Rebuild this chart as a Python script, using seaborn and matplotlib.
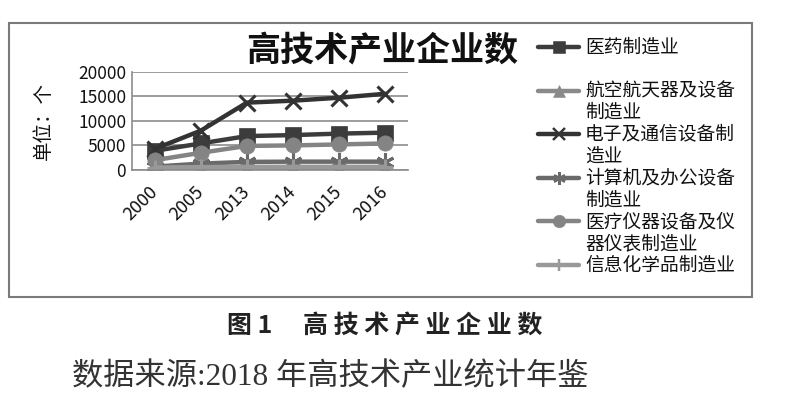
import matplotlib
matplotlib.use("Agg")
import matplotlib.pyplot as plt
from matplotlib.patches import Rectangle
from matplotlib.lines import Line2D
import seaborn as sns
import pandas as pd

years = ["2000", "2005", "2013", "2014", "2015", "2016"]
pharma = [3900, 5400, 6900, 7100, 7400, 7600]
aero = [200, 250, 330, 360, 380, 400]
electronics = [4300, 8000, 13700, 14100, 14700, 15500]
computer = [700, 1300, 1650, 1700, 1700, 1700]
medical = [2000, 3500, 4900, 5000, 5200, 5400]
chem = [500, 600, 650, 650, 650, 650]

names = ["医药制造业", "航空航天器及设备制造业", "电子及通信设备制造业",
         "计算机及办公设备制造业", "医疗仪器设备及仪器仪表制造业", "信息化学品制造业"]
legend_lines = [["医药制造业"], ["航空航天器及设备", "制造业"], ["电子及通信设备制", "造业"],
                ["计算机及办公设备", "制造业"], ["医疗仪器设备及仪", "器仪表制造业"], ["信息化学品制造业"]]
series = [pharma, aero, electronics, computer, medical, chem]
colors = ["#3c3c3c", "#8a8a8a", "#333333", "#6a6a6a", "#848484", "#999999"]
markers = ["s", "^", "x", (6, 2, 0), "o", "+"]
msizes = [11, 10, 12, 13, 11, 12]
medges = [0.5, 0.5, 2.2, 2.2, 0.5, 2.2]

rows = []
for n, vals in zip(names, series):
    for y, v in zip(years, vals):
        rows.append({"year": y, "value": v, "series": n})
df = pd.DataFrame(rows)

sns.set_theme(style="white")
plt.rcParams["font.family"] = ["Noto Sans CJK SC", "DejaVu Sans"]

W, H = 790, 395
fig = plt.figure(figsize=(7.9, 3.95), dpi=100)
ax = fig.add_axes([0.1667, 0.5696, 0.350, 0.249])

for n, c, m, ms, me in zip(names, colors, markers, msizes, medges):
    sub = df[df["series"] == n]
    sns.lineplot(data=sub, x="year", y="value", ax=ax, color=c, linewidth=3.2,
                 marker=m, markersize=ms, markeredgewidth=me,
                 markeredgecolor=c, legend=False)

ax.set_ylim(0, 20000)
ax.set_yticks([0, 5000, 10000, 15000, 20000])
ax.set_xlim(-0.5, 5.5)
ax.grid(axis="y", color="#8c8c8c", linewidth=1.2)
ax.set_axisbelow(True)
for s in ["top", "right"]:
    ax.spines[s].set_visible(False)
for s in ["left", "bottom"]:
    ax.spines[s].set_color("#8c8c8c")
    ax.spines[s].set_linewidth(1.2)
ax.tick_params(axis="y", labelsize=12.5, length=0, pad=4, colors="#111111")
ax.tick_params(axis="x", labelsize=13, length=0, pad=14, colors="#111111")
for lab in ax.get_xticklabels():
    lab.set_rotation(45)
    lab.set_rotation_mode("anchor")
    lab.set_ha("right")
    lab.set_va("center")
ax.set_xlabel("")
ax.set_ylabel("单位：个", fontsize=14, labelpad=17, color="#111111")

# legend drawn in figure coordinates, handle aligned with first text line
leg_top = 47
leg_step = 43.6
line_pitch = 22
for i, (txt, c, m, me) in enumerate(zip(legend_lines, colors, markers, medges)):
    yc = 1 - (leg_top + i * leg_step) / H
    fig.add_artist(Line2D([538 / W, 579 / W], [yc, yc], transform=fig.transFigure,
                          color=c, linewidth=3.2))
    fig.add_artist(Line2D([558.5 / W], [yc], transform=fig.transFigure, color=c,
                          marker=m, markersize=9, markeredgewidth=me * 0.8,
                          markeredgecolor=c, linestyle="none"))
    for j, t in enumerate(txt):
        fig.text(585 / W, yc - j * line_pitch / H, t, ha="left", va="center",
                 fontsize=13.5, color="#111111")

fig.text(382 / W, 1 - 50 / H, "高技术产业企业数", ha="center", va="center",
         fontsize=24.5, fontweight="bold", color="#111111")

fig.add_artist(Rectangle((9 / W, 1 - 297 / H), (752 - 9) / W, (297 - 23) / H,
                         transform=fig.transFigure, fill=False,
                         edgecolor="#7a7a7a", linewidth=1.5))

fig.text(385 / W, 1 - 326 / H, "图 1　 高 技 术 产 业 企 业 数", ha="center", va="center",
         fontsize=18, fontweight="bold", color="#222222")
fig.text(72 / W, 1 - 377 / H, "数据来源:2018 年高技术产业统计年鉴", ha="left", va="center",
         fontsize=22.5, color="#333333", family=["Liberation Serif", "Noto Sans CJK SC"])

fig.savefig("out.png", dpi=100)
